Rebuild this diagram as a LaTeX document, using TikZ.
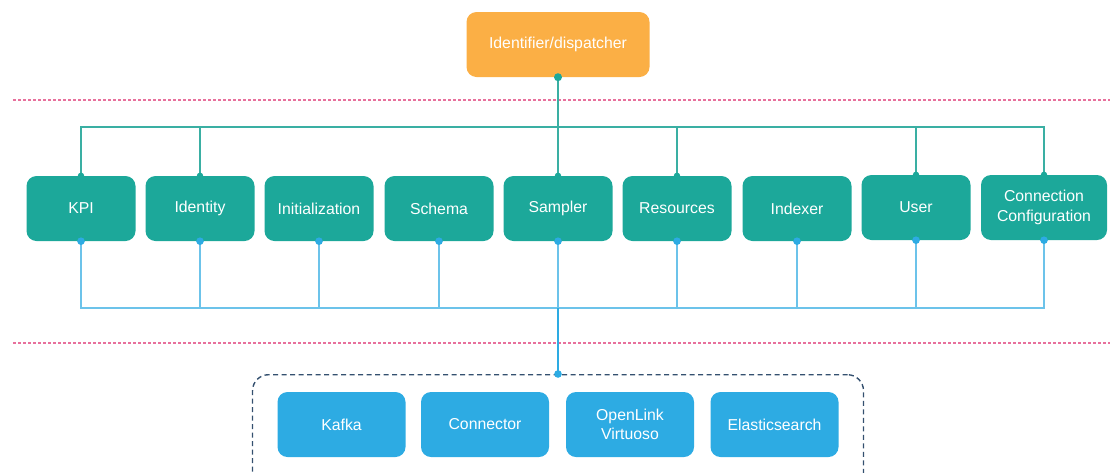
\documentclass[tikz,border=0pt]{standalone}
\usepackage{fontspec}
\setmainfont{Liberation Sans}
\definecolor{orangeC}{HTML}{FBAF45}
\definecolor{tealC}{HTML}{1CA89A}
\definecolor{blueC}{HTML}{2DABE3}
\definecolor{tealLine}{HTML}{3AAFA3}
\definecolor{blueLine}{HTML}{6CC3EA}
\definecolor{pinkC}{HTML}{E8709C}
\definecolor{navyC}{HTML}{34506F}
\begin{document}
\begin{tikzpicture}[x=1pt,y=-1pt,
  box/.style={rounded corners=10pt, minimum width=109pt, minimum height=65pt, inner sep=0pt,
    text=white, align=center, font=\fontsize{15.8}{19.5}\selectfont},
  tbox/.style={box, fill=tealC},
  bbox/.style={box, fill=blueC, minimum width=128pt},
  upline/.style={tealLine, line width=1.2pt},
  downline/.style={blueLine, line width=1.3pt},
  sepline/.style={pinkC, line width=1.1pt, dash pattern=on 3pt off 2pt},
  tdot/.style={fill=tealC},
  bdot/.style={fill=blueC}]
\useasboundingbox (0,0) rectangle (1110,472);
\clip (0,0) rectangle (1110,472);

% separators
\coordinate (s1a) at (13,100); \coordinate (s1b) at (1110,100);
\coordinate (s2a) at (13,343); \coordinate (s2b) at (1110,343);
\draw[sepline] (s1a) -- (s1b);
\draw[sepline] (s2a) -- (s2b);

% top node
\node[box, fill=orangeC, minimum width=183pt] (top) at (558,44.5) {Identifier/dispatcher};

% middle row
\node[tbox] (kpi)  at (81,208.5) {KPI};
\node[tbox] (ident) at (200,208.5) {Identity};
\node[tbox] (init) at (319,208.5) {Initialization};
\node[tbox] (schema) at (439,208.5) {Schema};
\node[tbox] (samp) at (558,208.5) {Sampler};
\node[tbox] (res) at (677,208.5) {Resources};
\node[tbox] (idx) at (797,208.5) {Indexer};
\node[tbox] (user) at (916,207.5) {User};
\node[tbox, minimum width=126pt] (conn) at (1044,207.5) {Connection\\Configuration};

% group box
\node[draw=navyC, line width=1.4pt, dash pattern=on 5pt off 3.5pt, rounded corners=16pt,
  minimum width=611pt, minimum height=120pt, anchor=north, inner sep=0pt] (grp) at (558,374) {};
\node[bbox] (kafka) at (341.5,424.5) {Kafka};
\node[bbox] (cnct) at (485,424.5) {Connector};
\node[bbox] (virt) at (630,424.5) {OpenLink\\Virtuoso};
\node[bbox] (elas) at (774.5,424.5) {Elasticsearch};

% upper connectors
\coordinate (tb) at (0,127);
\draw[upline, line width=1.7pt] (top.south) -- (top.south |- tb);
\draw[upline] (kpi.north) -- (kpi.north |- tb) -| (conn.north);
\foreach \n in {ident,samp,res,user}
  \draw[upline] (\n.north) -- (\n.north |- tb);

% lower connectors
\coordinate (bb) at (0,308);
\draw[downline] (kpi.south) -- (kpi.south |- bb) -| (conn.south);
\foreach \n in {ident,init,schema,samp,res,idx,user}
  \draw[downline] (\n.south) -- (\n.south |- bb);
\draw[blueC, line width=1.7pt] (samp.south |- bb) -- (grp.north);

% dots
\fill[tdot] (top.south) circle (4pt);
\foreach \n in {kpi,ident,samp,res,user,conn}
  \fill[tdot] (\n.north) circle (3.2pt);
\foreach \n in {kpi,ident,init,schema,samp,res,idx,user,conn}
  \fill[bdot] (\n.south) circle (3.8pt);
\fill[bdot] (grp.north) circle (3.8pt);
\end{tikzpicture}
\end{document}
